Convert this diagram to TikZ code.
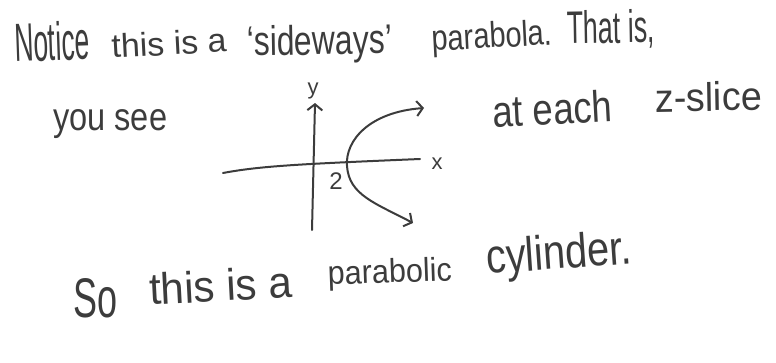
\documentclass[tikz,border=0pt]{standalone}
\usepackage{fontspec}
\usepackage{graphicx}
\setmainfont{Liberation Sans}
\usetikzlibrary{arrows.meta}
\definecolor{ink}{HTML}{3C3C3C}
\newcommand{\handw}[3]{\resizebox{#1pt}{#2pt}{\fontsize{20}{24}\selectfont #3}}
\tikzset{
  hand/.style={text=ink, inner sep=0pt, anchor=base west},
  lab/.style={text=ink, inner sep=0pt, font=\fontsize{22}{24}\selectfont},
  axis/.style={draw=ink, line width=2pt, line cap=round},
  tip/.style={-{Straight Barb[length=6pt,width=15pt,line width=2pt]}}
}
\begin{document}
\begin{tikzpicture}[x=1pt,y=-1pt]
\useasboundingbox (0,0) rectangle (776,362);
% line 1
\node[hand,rotate=2] (w1) at (15,62) {\handw{75}{39}{Notice}};
\node[hand,rotate=3] (w2) at (112,58) {\handw{115}{24}{this is a}};
\node[hand,rotate=1] (w3) at (247,56) {\handw{145}{30}{`sideways'}};
\node[hand,rotate=3] (w4) at (432,51) {\handw{121}{26}{parabola.}};
\node[hand,rotate=1] (w5) at (567,44) {\handw{88}{33}{That is,}};
% line 2
\node[hand] (w6) at (53,130) {\handw{114}{21}{you see}};
\node[hand,rotate=3] (w7) at (493,128) {\handw{120}{32}{at each}};
\node[hand,rotate=1] (w8) at (655,112) {\handw{107}{29}{z-slice}};
% line 3
\node[hand] (w9) at (73,317) {\handw{44}{39}{So}};
\node[hand,rotate=3] (w10) at (150,305) {\handw{143}{32}{this is a}};
\node[hand,rotate=2] (w11) at (328,285) {\handw{124}{24}{parabolic}};
\node[hand,rotate=4] (w12) at (487,274) {\handw{146}{35}{cylinder.}};
% sketch
\coordinate (ybot) at (312,230);
\coordinate (ytop) at (315,103);
\coordinate (xl) at (223,173);
\coordinate (xr) at (420,159);
\coordinate (v) at (347,166);
\coordinate (up) at (424,108);
\coordinate (dn) at (413,223);
\draw[axis,tip] (ybot) -- (ytop);
\draw[axis] (xl) .. controls (260,166) and (300,164) .. (xr);
\draw[axis,tip] (v) .. controls (345,140) and (370,112) .. (up);
\draw[axis,tip] (v) .. controls (349,195) and (375,203) .. (dn);
\node[lab] (ylab) at (313,91) {y};
\node[lab] (xlab) at (437,164) {x};
\node[lab, font=\fontsize{24}{26}\selectfont] (two) at (336,181) {2};
\end{tikzpicture}
\end{document}
